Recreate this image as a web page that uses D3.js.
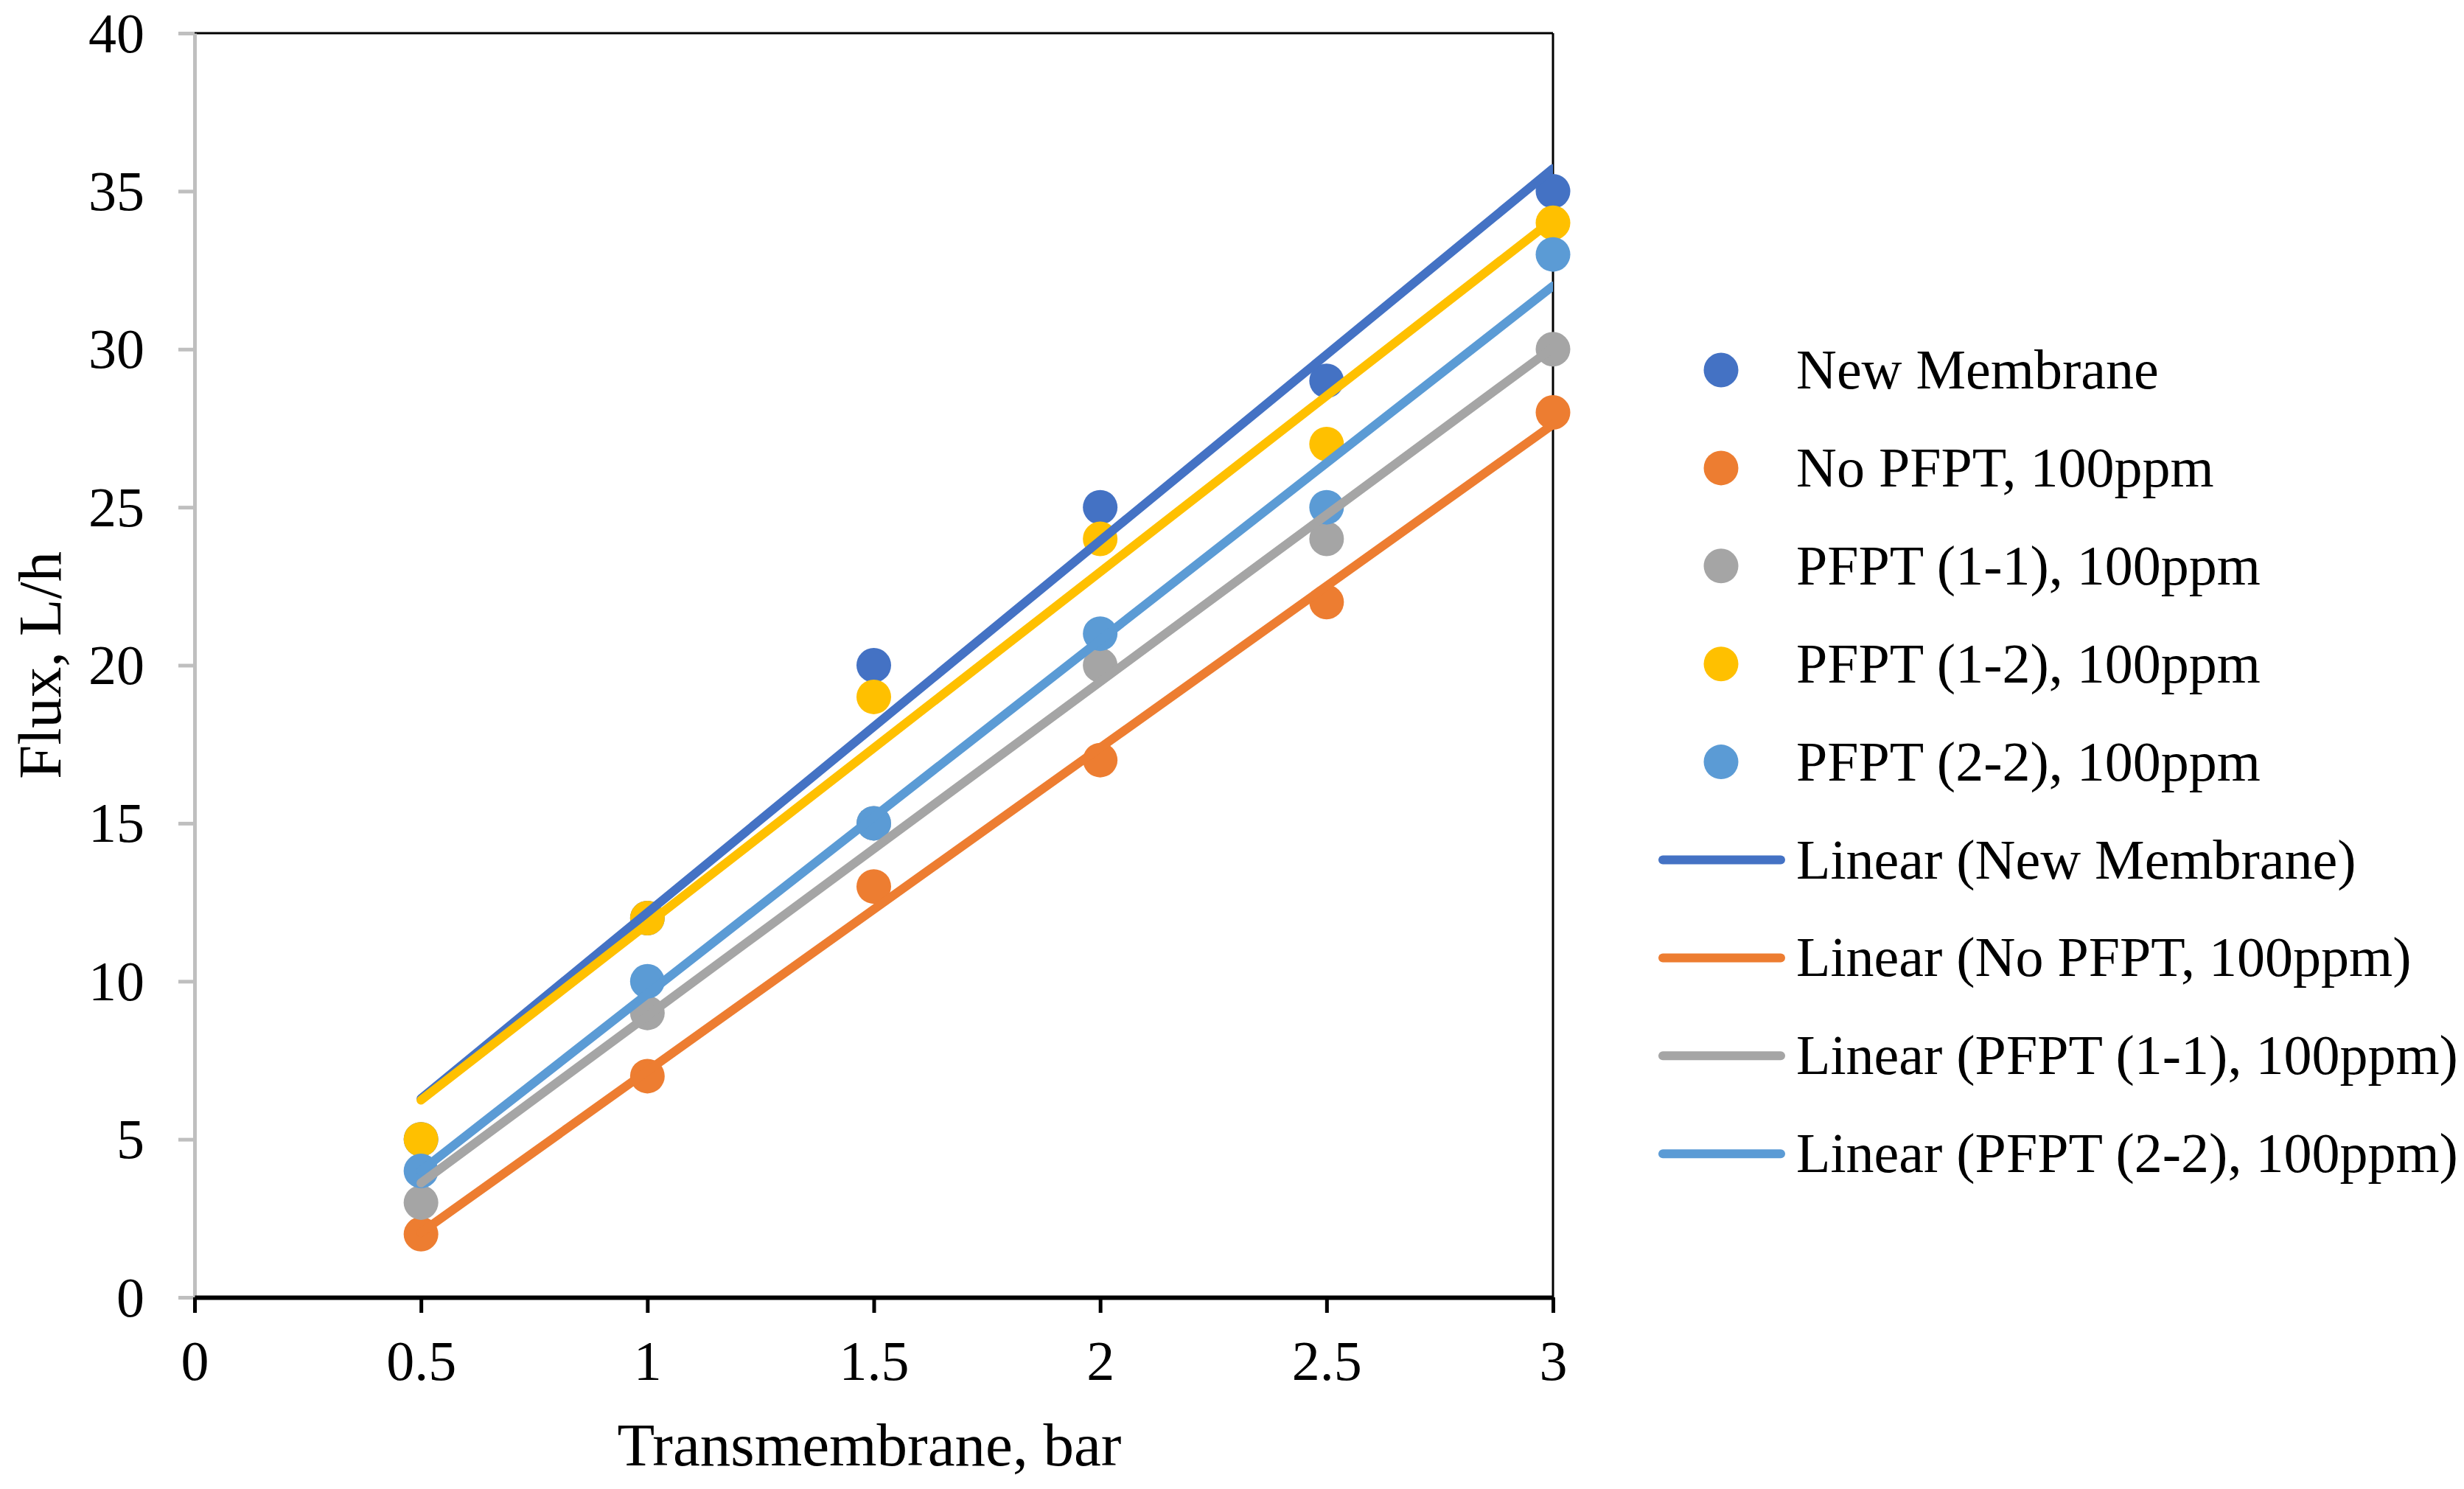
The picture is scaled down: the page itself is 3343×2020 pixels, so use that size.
<!DOCTYPE html>
<html>
<head>
<meta charset="utf-8">
<script src="https://cdn.jsdelivr.net/npm/d3@7"></script>
<style>
    body { margin: 0; background: #ffffff; }
    svg text { font-family: "Liberation Serif", "Times New Roman", serif; fill: #000000; }
</style>
</head>
<body>
<div id="chart"></div>
<script>

// chart data
const xValues = [0.5, 1, 1.5, 2, 2.5, 3];
const newMembrane = [5, 12, 20, 25, 29, 35];
const noPFPT = [2, 7, 13, 17, 22, 28];
const pfpt11 = [3, 9, 15, 20, 24, 30];
const pfpt12 = [5, 12, 19, 24, 27, 34];
const pfpt22 = [4, 10, 15, 21, 25, 33];

const xTicks = [0, 0.5, 1, 1.5, 2, 2.5, 3];
const yTicks = [0, 5, 10, 15, 20, 25, 30, 35, 40];

const seriesNames = ["New Membrane", "No PFPT, 100ppm", "PFPT (1-1), 100ppm", "PFPT (1-2), 100ppm", "PFPT (2-2), 100ppm"];
const seriesValues = [newMembrane, noPFPT, pfpt11, pfpt12, pfpt22];
const seriesColors = ["#4472C4", "#ED7D31", "#A5A5A5", "#FFC000", "#5B9BD5"];
// the legend of the original lists no trend line for PFPT (1-2)
const trendLegend = [0, 1, 2, 4];

const W = 3343, H = 2020;
const margin = {top: 45, right: 1236, bottom: 260, left: 264};
const width = W - margin.left - margin.right;
const height = H - margin.top - margin.bottom;

const svg = d3.select("#chart").append("svg")
    .attr("width", W)
    .attr("height", H);

const g = svg.append("g")
    .attr("transform", `translate(${margin.left}, ${margin.top})`);

// scales
const x = d3.scaleLinear().domain([0, 3]).range([0, width]);
const y = d3.scaleLinear().domain([0, 40]).range([height, 0]);

// clip for trend lines
svg.append("defs").append("clipPath")
    .attr("id", "plotClip")
    .append("rect")
    .attr("x", 0).attr("y", 0)
    .attr("width", width).attr("height", height);

// top and right border of plot area
g.append("line")
    .attr("x1", 0).attr("x2", width).attr("y1", 0).attr("y2", 0)
    .attr("stroke", "#000").attr("stroke-width", 3);
g.append("line")
    .attr("x1", width).attr("x2", width).attr("y1", 0).attr("y2", height)
    .attr("stroke", "#000").attr("stroke-width", 3);

// y axis (grey)
const yAxisG = g.append("g")
    .attr("class", "axis y-axis")
    .call(d3.axisLeft(y).tickValues(yTicks).tickSize(22).tickSizeOuter(0).tickPadding(46));
yAxisG.select(".domain").attr("stroke", "#BFBFBF").attr("stroke-width", 5);
yAxisG.selectAll(".tick line").attr("stroke", "#BFBFBF").attr("stroke-width", 5);
yAxisG.selectAll("text")
    .attr("dy", null)
    .attr("y", 25)
    .style("font-size", "76px");

// x axis (black)
const xAxisG = g.append("g")
    .attr("class", "axis x-axis")
    .attr("transform", `translate(0, ${height})`)
    .call(d3.axisBottom(x).tickValues(xTicks).tickSize(21).tickSizeOuter(0)
        .tickFormat(d => String(d)));
xAxisG.select(".domain").attr("stroke", "#000").attr("stroke-width", 6);
xAxisG.selectAll(".tick line").attr("stroke", "#000").attr("stroke-width", 5);
xAxisG.selectAll("text")
    .attr("dy", null)
    .attr("y", 112)
    .style("font-size", "76px");

// axis titles
g.append("text")
    .attr("x", width / 2 - 6)
    .attr("y", height + 228)
    .attr("text-anchor", "middle")
    .style("font-size", "83px")
    .text("Transmembrane, bar");

g.append("text")
    .attr("transform", `translate(${82 - margin.left}, ${height / 2}) rotate(-90)`)
    .attr("text-anchor", "middle")
    .style("font-size", "83px")
    .text("Flux, L/h");

// markers
seriesValues.forEach((vals, i) => {
    g.append("g")
        .attr("class", "points")
        .selectAll("circle")
        .data(vals)
        .enter().append("circle")
        .attr("cx", (d, j) => x(xValues[j]))
        .attr("cy", d => y(d))
        .attr("r", 23.5)
        .attr("fill", seriesColors[i]);
});

// least squares trend line, like Excel's "Linear" trendline
function linearFit(xs, ys) {
    let mx = d3.mean(xs), my = d3.mean(ys);
    let num = d3.sum(xs, (v, k) => (v - mx) * (ys[k] - my));
    let den = d3.sum(xs, v => (v - mx) * (v - mx));
    let slope = num / den;
    return {slope: slope, intercept: my - slope * mx};
}

const trendG = g.append("g")
    .attr("class", "trends")
    .attr("clip-path", "url(#plotClip)");

seriesValues.forEach((vals, i) => {
    let fit = linearFit(xValues, vals);
    let x0 = d3.min(xValues), x1 = d3.max(xValues);
    trendG.append("line")
        .attr("x1", x(x0))
        .attr("y1", y(fit.intercept + fit.slope * x0))
        .attr("x2", x(x1))
        .attr("y2", y(fit.intercept + fit.slope * x1))
        .attr("stroke", seriesColors[i])
        .attr("stroke-width", 12)
        .attr("stroke-linecap", "round");
});

// legend
const legendG = svg.append("g").attr("class", "legend");
const rowY = i => 502 + i * 132.9;

seriesNames.forEach((name, i) => {
    legendG.append("circle")
        .attr("cx", 2335).attr("cy", rowY(i))
        .attr("r", 23.5)
        .attr("fill", seriesColors[i]);
    legendG.append("text")
        .attr("x", 2437).attr("y", rowY(i) + 25)
        .style("font-size", "76px")
        .text(name);
});

trendLegend.forEach((s, k) => {
    let row = seriesNames.length + k;
    legendG.append("line")
        .attr("x1", 2256).attr("x2", 2416)
        .attr("y1", rowY(row)).attr("y2", rowY(row))
        .attr("stroke", seriesColors[s])
        .attr("stroke-width", 12)
        .attr("stroke-linecap", "round");
    legendG.append("text")
        .attr("x", 2437).attr("y", rowY(row) + 25)
        .style("font-size", "76px")
        .text("Linear (" + seriesNames[s] + ")");
});

</script>
</body>
</html>
